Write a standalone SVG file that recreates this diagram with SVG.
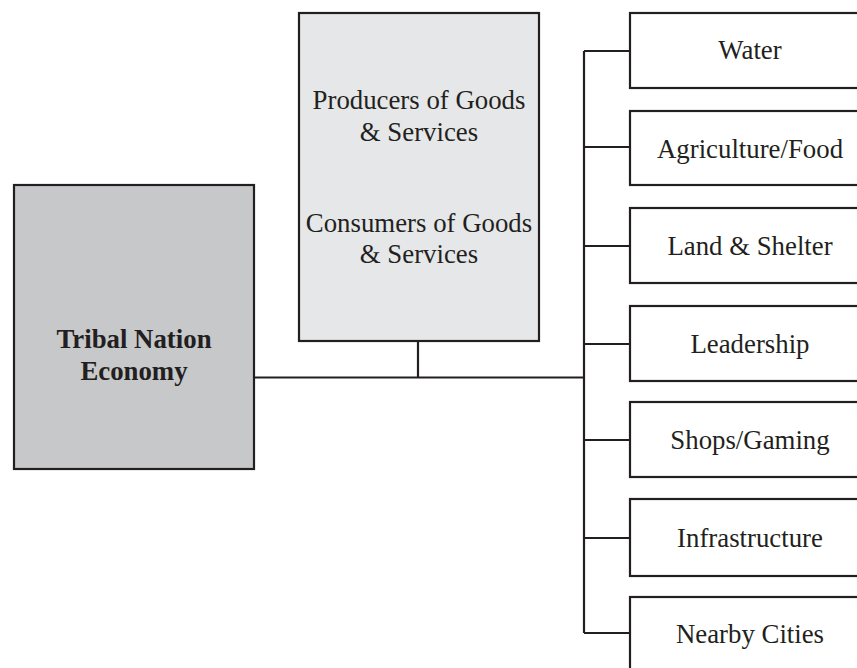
<svg xmlns="http://www.w3.org/2000/svg" width="857" height="668" viewBox="0 0 857 668">
  <style>
    .box { stroke: #231f20; stroke-width: 2.2; }
    .main { fill: #c7c8ca; }
    .roles { fill: #e6e7e8; }
    .sector { fill: #ffffff; }
    .wire { fill: none; stroke: #231f20; stroke-width: 2.2; }
    text { font-family: "Liberation Serif", "Times New Roman", serif; font-size: 26.8px; fill: #231f20; text-anchor: middle; }
    .bold { font-weight: bold; }
  </style>
  <rect width="857" height="668" fill="#ffffff"/>

  <g id="connectors">
    <path class="wire" d="M254 377.5 H584 M418 341 V377.5"/>
    <path class="wire" d="M584 51 V633"/>
    <path class="wire" d="M584 51 H630 M584 147 H630 M584 246 H630 M584 344 H630 M584 440 H630 M584 538 H630 M584 633 H630"/>
  </g>

  <g id="tribal-nation-economy">
    <rect class="box main" x="14" y="185" width="240" height="284"/>
    <text class="bold" x="134" y="348">Tribal Nation</text>
    <text class="bold" x="134" y="380">Economy</text>
  </g>

  <g id="producers-consumers">
    <rect class="box roles" x="299" y="13" width="240" height="328"/>
    <text x="419" y="109">Producers of Goods</text>
    <text x="419" y="141">&amp; Services</text>
    <text x="419" y="232">Consumers of Goods</text>
    <text x="419" y="263">&amp; Services</text>
  </g>

  <g id="water">
    <rect class="box sector" x="630" y="13" width="240" height="75"/>
    <text x="750" y="59">Water</text>
  </g>
  <g id="agriculture-food">
    <rect class="box sector" x="630" y="111" width="240" height="74"/>
    <text x="750" y="158">Agriculture/Food</text>
  </g>
  <g id="land-shelter">
    <rect class="box sector" x="630" y="208" width="240" height="75"/>
    <text x="750" y="255">Land &amp; Shelter</text>
  </g>
  <g id="leadership">
    <rect class="box sector" x="630" y="306" width="240" height="75"/>
    <text x="750" y="353">Leadership</text>
  </g>
  <g id="shops-gaming">
    <rect class="box sector" x="630" y="402" width="240" height="75"/>
    <text x="750" y="449">Shops/Gaming</text>
  </g>
  <g id="infrastructure">
    <rect class="box sector" x="630" y="499" width="240" height="77"/>
    <text x="750" y="547">Infrastructure</text>
  </g>
  <g id="nearby-cities">
    <rect class="box sector" x="630" y="597" width="240" height="90"/>
    <text x="750" y="643">Nearby Cities</text>
  </g>
</svg>
